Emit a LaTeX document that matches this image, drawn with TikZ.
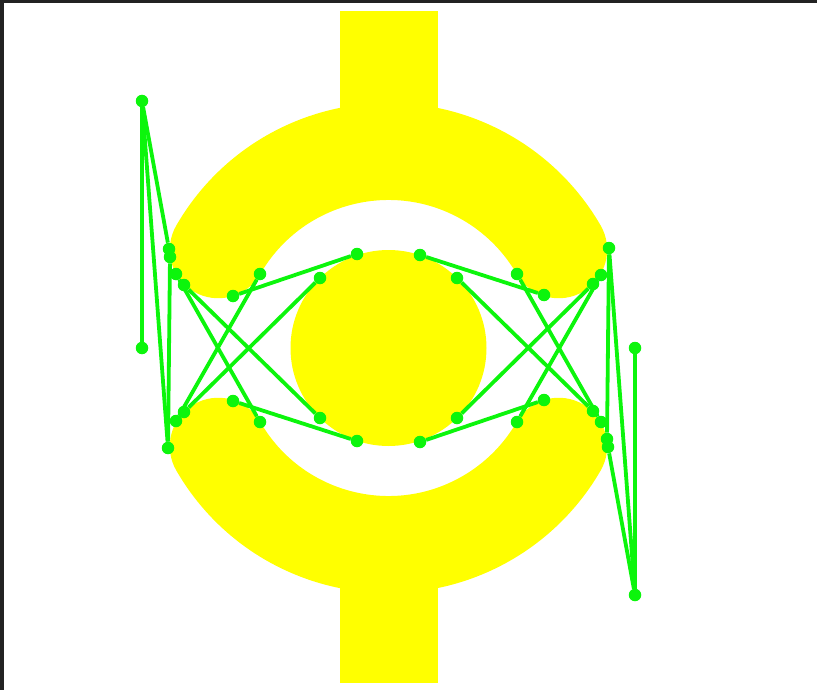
\documentclass[tikz,border=0pt]{standalone}
\usetikzlibrary{positioning}
\definecolor{ringyellow}{RGB}{255,255,0}
\definecolor{linkgreen}{RGB}{12,245,12}
\definecolor{framegray}{RGB}{34,34,34}
\tikzset{
 ring/.style={draw=ringyellow,line width=97pt,line cap=round},
 bar/.style={fill=ringyellow},
 link/.style={draw=linkgreen,line width=3.8pt},
 dot/.style={circle,fill=linkgreen,inner sep=0pt,minimum size=12.5pt}
}

\begin{document}
\begin{tikzpicture}[x=1pt,y=-1pt]
\useasboundingbox (0,0) rectangle (817,690);
% screen frame
\fill[framegray] (0,0) rectangle (817,3);
\fill[framegray] (0,0) rectangle (4,690);
% yellow symbol
\fill[bar] (340,11) rectangle (438,170);
\fill[bar] (340,526) rectangle (438,683);
\draw[ring] (218.3,249.75) arc[start angle=150,end angle=30,radius=196.5pt];
\draw[ring] (218.3,446.25) arc[start angle=210,end angle=330,radius=196.5pt];
\fill[ringyellow] (388.5,348) circle[radius=98pt];
% dots, right side is the left one turned half round
\foreach \i/\x/\y in {1/142/101,2/142/348,3/169/249,4/170/257,5/168/448,
  6/176/274,7/184/285,8/233/296,9/260/274,10/320/278,11/357/254,
  12/176/421,13/184/412,14/233/401,15/260/422,16/320/418,17/357/441}{
  \node[dot] (l\i) at (\x,\y) {};
  \node[dot] (r\i) at ({777-\x},{696-\y}) {};
}
% links
\foreach \a/\b in {1/2,1/3,1/5,4/5,6/15,7/16,9/12,10/13,8/11,14/17}{
  \draw[link] (l\a)--(l\b);
  \draw[link] (r\a)--(r\b);
}
\end{tikzpicture}
\end{document}
